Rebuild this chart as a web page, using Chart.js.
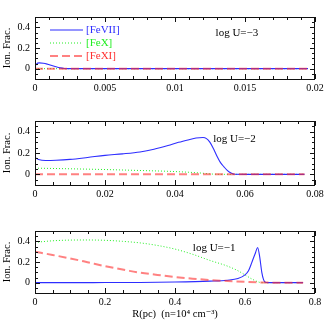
<!DOCTYPE html>
<html>
<head>
<meta charset="utf-8">
<script src="https://cdn.jsdelivr.net/npm/chart.js@4.4.1/dist/chart.umd.min.js"></script>
<style>
  html, body { margin: 0; padding: 0; background: #fff; }
  #wrap { position: relative; width: 327px; height: 327px; }
  canvas { position: absolute; left: 0; }
</style>
</head>
<body>
<div id="wrap">
  <canvas id="c1" width="327" height="100" style="top:0px"></canvas>
  <canvas id="c2" width="327" height="100" style="top:104px"></canvas>
  <canvas id="c3" width="327" height="113" style="top:214px"></canvas>
</div>
<script>
// series names
const ionNames = ['[FeVII]', '[FeX]', '[FeXI]'];

// log U = -3
const r1Blue = [0, 0.0001, 0.0003, 0.0006, 0.0009, 0.0012, 0.0015, 0.0018, 0.0021, 0.0025, 0.005, 0.01, 0.015, 0.0195];
const fe7_1 = [0.022, 0.045, 0.056, 0.053, 0.043, 0.03, 0.018, 0.008, 0.002, 0, 0, 0, 0, 0];
const r1 = [0, 0.005, 0.01, 0.015, 0.0195];
const fe10_1 = [0, 0, 0, 0, 0];
const fe11_1 = [0, 0, 0, 0, 0];

// log U = -2
const r2Blue = [0, 0.001, 0.003, 0.006, 0.01, 0.015, 0.02, 0.025, 0.03, 0.034, 0.038, 0.041, 0.044, 0.046, 0.048, 0.049, 0.05, 0.051, 0.052, 0.053, 0.054, 0.055, 0.056, 0.057, 0.06, 0.065, 0.07, 0.077];
const fe7_2 = [0.156, 0.14, 0.13, 0.132, 0.14, 0.158, 0.178, 0.192, 0.21, 0.235, 0.27, 0.3, 0.325, 0.34, 0.345, 0.335, 0.3, 0.24, 0.17, 0.11, 0.07, 0.035, 0.012, 0.001, 0, 0, 0, 0];
const r2Green = [0, 0.01, 0.02, 0.03, 0.04, 0.047, 0.05, 0.053, 0.06, 0.077];
const fe10_2 = [0.058, 0.052, 0.045, 0.036, 0.026, 0.013, 0.004, 0, 0, 0];
const r2 = [0, 0.02, 0.04, 0.06, 0.077];
const fe11_2 = [0, 0, 0, 0, 0];

// log U = -1
const r3Blue = [0, 0.1, 0.2, 0.3, 0.4, 0.5, 0.55, 0.58, 0.6, 0.61, 0.62, 0.63, 0.636, 0.642, 0.648, 0.653, 0.658, 0.665, 0.7, 0.766];
const fe7_3 = [0, 0, 0.001, 0.002, 0.006, 0.015, 0.024, 0.04, 0.075, 0.115, 0.2, 0.29, 0.34, 0.25, 0.1, 0.03, 0.004, 0, 0, 0];
const r3Green = [0, 0.05, 0.1, 0.15, 0.2, 0.25, 0.3, 0.35, 0.4, 0.45, 0.5, 0.55, 0.58, 0.6, 0.62, 0.64, 0.65, 0.7, 0.766];
const fe10_3 = [0.39, 0.405, 0.412, 0.413, 0.41, 0.4, 0.385, 0.36, 0.325, 0.275, 0.215, 0.16, 0.115, 0.075, 0.035, 0.005, 0, 0, 0];
const r3Red = [0, 0.05, 0.1, 0.15, 0.2, 0.27, 0.3, 0.35, 0.4, 0.45, 0.5, 0.55, 0.6, 0.65, 0.7, 0.766];
const fe11_3 = [0.3, 0.268, 0.235, 0.198, 0.16, 0.114, 0.097, 0.075, 0.055, 0.039, 0.026, 0.016, 0.008, 0.002, 0, 0];

// tick labels
const xTicks1 = [0, 0.005, 0.01, 0.015, 0.02];
const xTicks2 = [0, 0.02, 0.04, 0.06, 0.08];
const xTicks3 = [0, 0.2, 0.4, 0.6, 0.8];
const yTicks = [0, 0.2, 0.4];

const blue = '#2d2dff';
const green = '#22ee22';
const red = 'rgba(255,45,45,0.6)';
const serif = '"Liberation Serif", "DejaVu Serif", serif';

function pts(xs, ys) {
  return xs.map((x, i) => ({ x: x, y: ys[i] }));
}

function sets(b, g, r) {
  return [
    { label: ionNames[0], data: b, borderColor: blue, borderWidth: 1.1, order: 1 },
    { label: ionNames[1], data: g, borderColor: green, borderWidth: 1, borderDash: [1, 2], order: 2 },
    { label: ionNames[2], data: r, borderColor: red, borderWidth: 2, borderDash: [8, 4], order: 0 }
  ].map(d => Object.assign(d, { pointRadius: 0, fill: false, cubicInterpolationMode: 'monotone' }));
}

// frame + inward ticks, like the original plot
const framePlugin = {
  id: 'frame',
  afterDatasetsDraw(chart, args, opts) {
    const { ctx, chartArea: a, scales: { x, y } } = chart;
    ctx.save();
    ctx.strokeStyle = '#111';
    ctx.lineWidth = 1;
    ctx.beginPath();
    const n = Math.round((x.max - x.min) / opts.xMinor);
    for (let i = 0; i <= n; i++) {
      const p = Math.round(x.getPixelForValue(x.min + i * opts.xMinor)) + 0.5;
      const L = i % opts.xPer === 0 ? 5 : 3;
      ctx.moveTo(p, a.bottom); ctx.lineTo(p, a.bottom - L);
      ctx.moveTo(p, a.top); ctx.lineTo(p, a.top + L);
    }
    const m = Math.round((y.max - y.min) / 0.05);
    for (let i = 0; i <= m; i++) {
      const v = y.min + i * 0.05;
      const p = Math.round(y.getPixelForValue(v)) + 0.5;
      const major = Math.abs(v / 0.2 - Math.round(v / 0.2)) < 1e-6;
      const L = major ? 5 : 3;
      ctx.moveTo(a.left, p); ctx.lineTo(a.left + L, p);
      ctx.moveTo(a.right, p); ctx.lineTo(a.right - L, p);
    }
    ctx.stroke();
    ctx.strokeRect(Math.round(a.left) + 0.5, Math.round(a.top) + 0.5,
      Math.round(a.right - a.left) - 1, Math.round(a.bottom - a.top));

    // label of panel
    ctx.fillStyle = '#000';
    ctx.font = '11px ' + serif;
    ctx.textBaseline = 'middle';
    ctx.fillText(opts.text, x.getPixelForValue(opts.tx), y.getPixelForValue(opts.ty));

    // legend (top panel only)
    if (opts.legend) {
      chart.data.datasets.forEach((ds, i) => {
        const yy = a.top + 13 + i * 13;
        ctx.beginPath();
        ctx.strokeStyle = ds.borderColor;
        ctx.lineWidth = ds.borderWidth;
        ctx.setLineDash(ds.borderDash || []);
        ctx.moveTo(50, yy); ctx.lineTo(83, yy);
        ctx.stroke();
        ctx.setLineDash([]);
        ctx.fillStyle = i === 2 ? '#ff3030' : ds.borderColor;
        ctx.fillText(ds.label, 86, yy);
      });
    }
    ctx.restore();
  }
};

function makePanel(id, datasets, xMax, xTicks, axisH, extra) {
  return new Chart(document.getElementById(id), {
    type: 'line',
    data: { datasets: datasets },
    plugins: [framePlugin],
    options: {
      responsive: false,
      animation: false,
      layout: { padding: { top: 17, right: 12, left: 0, bottom: 0 } },
      plugins: {
        legend: { display: false },
        tooltip: { enabled: false },
        frame: extra
      },
      scales: {
        x: {
          type: 'linear',
          min: 0,
          max: xMax,
          afterBuildTicks: s => { s.ticks = xTicks.map(v => ({ value: v })); },
          afterFit: s => { s.height = axisH; },
          ticks: { color: '#000', font: { family: serif, size: 10 }, padding: 3, maxRotation: 0,
            callback: v => String(v) },
          grid: { display: false, drawTicks: false },
          border: { display: false },
          title: {
            display: !!extra.xTitle,
            text: extra.xTitle || '',
            color: '#000',
            font: { family: serif, size: 10.5 },
            padding: { top: 0, bottom: 6 }
          }
        },
        y: {
          min: -0.1,
          max: 0.5,
          afterBuildTicks: s => { s.ticks = yTicks.map(v => ({ value: v })); },
          afterFit: s => { s.width = 35; },
          ticks: { color: '#000', font: { family: serif, size: 10 }, padding: 5,
            callback: v => String(v) },
          grid: { display: false, drawTicks: false },
          border: { display: false },
          title: {
            display: true,
            text: 'Ion. Frac.',
            color: '#000',
            font: { family: serif, size: 10.5 },
            padding: { top: 1, bottom: 0 }
          }
        }
      }
    }
  });
}

makePanel('c1', sets(pts(r1Blue, fe7_1), pts(r1, fe10_1), pts(r1, fe11_1)),
  0.02, xTicks1, 21, { xMinor: 0.001, xPer: 5, text: 'log U=\u22123', tx: 0.0129, ty: 0.34, legend: true });

makePanel('c2', sets(pts(r2Blue, fe7_2), pts(r2Green, fe10_2), pts(r2, fe11_2)),
  0.08, xTicks2, 19, { xMinor: 0.005, xPer: 4, text: 'log U=\u22122', tx: 0.0509, ty: 0.33 });

makePanel('c3', sets(pts(r3Blue, fe7_3), pts(r3Green, fe10_3), pts(r3Red, fe11_3)),
  0.8, xTicks3, 34, { xMinor: 0.05, xPer: 4, text: 'log U=\u22121', tx: 0.451, ty: 0.33,
    xTitle: 'R(pc)  (n=10\u2074 cm\u207B\u00B3)' });
</script>
</body>
</html>
